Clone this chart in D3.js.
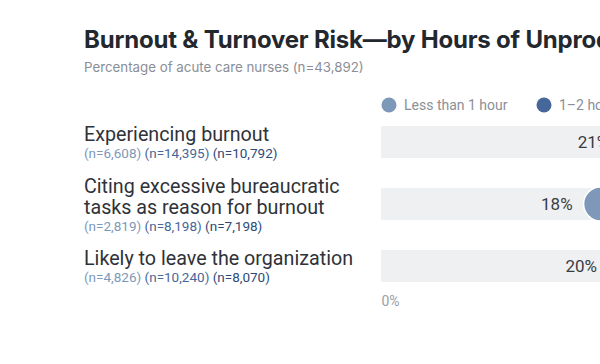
<!DOCTYPE html>
<html>
<head>
<meta charset="utf-8">
<script src="https://cdn.jsdelivr.net/npm/d3@7"></script>
<style>
  body { margin: 0; background: #fff; overflow: hidden; }
  svg { font-family: Roboto, "Noto Sans", sans-serif; display: block; }
</style>
</head>
<body>
<script>
// hours groups (legend) and their colours
var groups = ["Less than 1 hour", "1\u20132 hours", "More than 2 hours"];
var groupColors = ["#7e98b9", "#46679a", "#2c4a78"];

// rows: label lines, sample sizes per group, % per group
var metrics = ["burnout", "bureaucratic", "leave"];
var labelLines = [
    ["Experiencing burnout"],
    ["Citing excessive bureaucratic", "tasks as reason for burnout"],
    ["Likely to leave the organization"]
];
var sampleSizes = [
    ["6,608", "14,395", "10,792"],
    ["2,819", "8,198", "7,198"],
    ["4,826", "10,240", "8,070"]
];
// only the first group is visible in the picture; the others are estimates
var lessThan1 = [21, 18, 20];
var oneToTwo = [29, 26, 27];
var moreThan2 = [37, 35, 33];
var axisTicks = [0, 50];

window.onload = function(){

    var w = 600, h = 364;

    var svg = d3.select("body")
        .append("svg")
        .attr("width", w)
        .attr("height", h);

    //x scale for percentages, chart runs past the window on the right
    var x = d3.scaleLinear()
        .domain([0, 50])
        .range([381, 991]);

    //one band per metric
    var y = d3.scaleBand()
        .domain(metrics)
        .range([126, 282])
        .paddingInner(0.482)
        .paddingOuter(0);

    var r = 17;

    //title + subtitle
    svg.append("text")
        .attr("x", 84)
        .attr("y", 48)
        .style("font-family", "Inter, Roboto, sans-serif")
        .style("font-size", "24px")
        .style("font-weight", "700")
        .style("letter-spacing", "-0.2px")
        .style("fill", "#23272e")
        .text("Burnout & Turnover Risk\u2014by Hours of Unproductive Time");

    svg.append("text")
        .attr("x", 84)
        .attr("y", 72)
        .style("font-family", "Inter, Roboto, sans-serif")
        .style("font-size", "13.3px")
        .style("fill", "#8a8e96")
        .text("Percentage of acute care nurses (n=43,892)");

    //legend
    var legend = svg.selectAll(".legend")
        .data(groups)
        .enter()
        .append("g")
        .attr("class", "legend")
        .attr("transform", function(d, i){ return "translate(" + (389 + i * 155) + ",105)"; });

    legend.append("circle")
        .attr("r", 7.5)
        .style("fill", function(d, i){ return groupColors[i]; });

    legend.append("text")
        .attr("x", 15)
        .attr("y", 5)
        .style("font-size", "14px")
        .style("fill", "#8b8f96")
        .text(function(d){ return d; });

    //background bands
    svg.selectAll(".band")
        .data(metrics)
        .enter()
        .append("rect")
        .attr("class", "band")
        .attr("x", x(0))
        .attr("y", function(d){ return y(d); })
        .attr("width", x(50) - x(0))
        .attr("height", y.bandwidth())
        .style("fill", "#eff0f2");

    //row labels
    var rows = svg.selectAll(".rowLabel")
        .data(metrics)
        .enter()
        .append("g")
        .attr("class", "rowLabel");

    rows.each(function(d, i){
        var g = d3.select(this);
        var lines = labelLines[i];
        var cy = y(d) + y.bandwidth() / 2;
        var nBase = cy + 16 + (lines.length - 1) * 10.5;

        lines.forEach(function(line, j){
            g.append("text")
                .attr("x", 84)
                .attr("y", nBase - 17 - (lines.length - 1 - j) * 21)
                .style("font-size", "19.7px")
                .style("fill", "#2f3239")
                .text(line);
        });

        var nText = g.append("text")
            .attr("x", 84)
            .attr("y", nBase)
            .style("font-size", "13.5px");

        sampleSizes[i].forEach(function(n, k){
            nText.append("tspan")
                .style("fill", groupColors[k])
                .text((k > 0 ? " " : "") + "(n=" + n + ")");
        });
    });

    //dots per group
    var series = [lessThan1, oneToTwo, moreThan2];
    series.forEach(function(vals, k){
        svg.selectAll(".dot" + k)
            .data(metrics)
            .enter()
            .append("circle")
            .attr("class", "dot" + k)
            .attr("cx", function(d, i){ return x(vals[i]); })
            .attr("cy", function(d){ return y(d) + y.bandwidth() / 2; })
            .attr("r", r)
            .style("fill", groupColors[k])
            .style("stroke", "#fff")
            .style("stroke-width", 1.5);
    });

    //value labels left of the first dot
    svg.selectAll(".valLabel")
        .data(metrics)
        .enter()
        .append("text")
        .attr("class", "valLabel")
        .attr("text-anchor", "end")
        .attr("x", function(d, i){ return x(lessThan1[i]) - r - 11; })
        .attr("y", function(d){ return y(d) + y.bandwidth() / 2 + 6; })
        .style("font-size", "17px")
        .style("fill", "#3a3d44")
        .text(function(d, i){ return lessThan1[i] + "%"; });

    //x axis
    var xAxis = d3.axisBottom(x)
        .tickValues(axisTicks)
        .tickFormat(function(d){ return d + "%"; })
        .tickSize(0)
        .tickPadding(3);

    var axis = svg.append("g")
        .attr("transform", "translate(0,293)")
        .call(xAxis);

    axis.select(".domain").remove();
    axis.selectAll("text")
        .attr("text-anchor", "start")
        .style("font-family", "Roboto, sans-serif")
        .style("font-size", "14px")
        .style("fill", "#9a9ea5");
};
</script>
</body>
</html>
